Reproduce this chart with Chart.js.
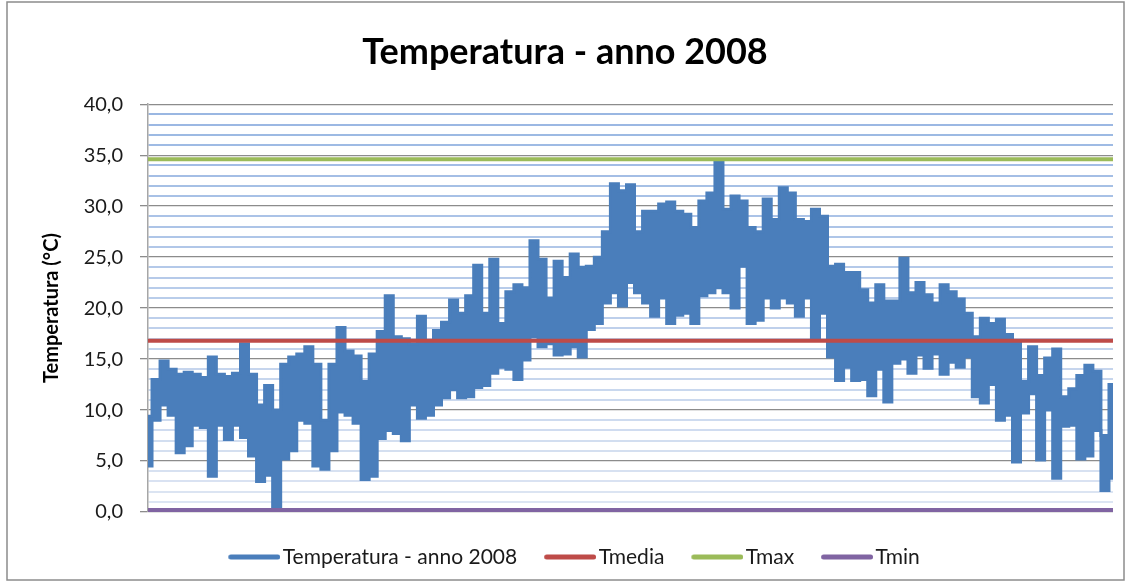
<!DOCTYPE html>
<html>
<head>
<meta charset="utf-8">
<title>Temperatura - anno 2008</title>
<script src="https://cdn.jsdelivr.net/npm/chart.js@4.4.1/dist/chart.umd.min.js"></script>
<style>
  html, body { margin: 0; padding: 0; background: #fff; }
  #wrap { width: 1130px; height: 583px; }
</style>
</head>
<body>
<div id="wrap"><canvas id="tempChart" width="1130" height="583"></canvas></div>
<script>
// upper / lower envelope of the hourly temperature (about 3 days per step)
const tempHigh = [9.4, 13, 14.8, 14, 13.5, 13.7, 13.5, 13.2, 15.2, 13.5,
  13.3, 13.6, 16.5, 13.5, 10.5, 12.4, 10, 14.5, 15.2, 15.5,
  16.2, 14.5, 9, 14.5, 18.1, 15.8, 15.3, 12.8, 15.5, 17.7,
  21.2, 17.2, 17, 16.5, 19.2, 16.7, 17.8, 18.6, 20.8, 19.5,
  21.2, 24.2, 19.5, 24.8, 18.5, 21.6, 22.3, 22, 26.6, 24.8,
  21, 24.6, 23, 25.3, 24, 24.1, 25, 27.5, 32.2, 31.5,
  32.1, 27.5, 29.5, 29.5, 30.2, 30.4, 29.5, 29.2, 27.9, 30.5,
  31.3, 34.4, 29.7, 31, 30.5, 27.9, 27.5, 30.7, 28.7, 31.8,
  31.3, 28.7, 28.5, 29.7, 29, 24.1, 24.3, 23.5, 23.5, 21.8,
  20.5, 22.3, 20.7, 20.7, 24.9, 21.5, 22.5, 21.3, 20.5, 22.3,
  21.6, 20.9, 19.5, 17.2, 19, 18.5, 18.9, 17.4, 16.6, 12.8,
  16.2, 13.4, 15.1, 16, 11.3, 12.1, 13.4, 14.4, 13.8, 7.5, 12.5];
const tempLow = [4.5, 9, 10.5, 9.5, 5.8, 6.5, 8.5, 8.3, 3.5, 8.5,
  7.1, 8.5, 7.3, 5.5, 3.0, 3.6, 0.3, 5.2, 6, 9,
  8.7, 4.5, 4.2, 6, 9.8, 9.5, 8.7, 3.2, 3.5, 7.2,
  8, 7.7, 7, 10.5, 9.2, 9.5, 10.5, 11.2, 12, 11.2,
  11.3, 12.2, 12.4, 13.6, 14.2, 14, 13, 14.9, 17.2, 16.2,
  16.5, 15.4, 15.5, 16.2, 15.2, 17.9, 18.5, 20.5, 21.5, 20.2,
  22.5, 21.5, 20.5, 19.2, 21, 18.5, 19.3, 19.5, 18.5, 21.2,
  21.5, 22, 21.5, 20, 24.1, 18.5, 18.8, 21, 20, 21,
  20.5, 19.2, 21, 17, 19.5, 15.2, 12.9, 14.2, 12.9, 13,
  11.4, 14, 10.8, 14.6, 15, 13.6, 15.4, 14.1, 15.5, 13.5,
  14.7, 14.2, 15.2, 11.3, 10.7, 12.5, 9, 9.5, 4.9, 9.7,
  11.6, 5.1, 10, 3.3, 8.4, 8.5, 5.2, 5.5, 8, 2.1, 3.3];

const tMedia = 16.8;
const tMax = 34.6;
const tMin = 0.2;

const yMin = 0, yMax = 40, yMajor = 5;

const lastX = tempHigh.length - 1;
const flat = v => [{x: 0, y: v}, {x: lastX, y: v}];
const toPoints = arr => arr.map((y, i) => ({x: i, y}));

const BLUE = '#4a7ebb', RED = '#be4b48', GREEN = '#9bbb59', PURPLE = '#8064a2';

function minorColor(v) {
  const t = v / yMax;
  const r = Math.round(222 - 70 * t), g = Math.round(230 - 48 * t), b = Math.round(243 - 17 * t);
  return `rgb(${r},${g},${b})`;
}

// legend sample: rounded thick line, drawn mostly left of the text
function sample(color) {
  const c = document.createElement('canvas');
  c.width = 56;
  c.height = 8;
  const g = c.getContext('2d');
  g.strokeStyle = color;
  g.lineWidth = 5;
  g.lineCap = 'round';
  g.beginPath();
  g.moveTo(6.5, 4);
  g.lineTo(53.5, 4);
  g.stroke();
  return c;
}

const frame = {
  id: 'frame',
  beforeDraw(chart) {
    const c = chart.ctx;
    c.save();
    c.fillStyle = '#fff';
    c.fillRect(0, 0, chart.width, chart.height);
    c.strokeStyle = '#8c8c8c';
    c.lineWidth = 1.5;
    c.strokeRect(7, 2, 1117, 578);
    c.restore();
  },
  afterLayout(chart) {
    chart.legend.left += 11;
    chart.legend.right += 11;
  }
};

new Chart(document.getElementById('tempChart'), {
  type: 'line',
  data: {
    datasets: [{
      label: 'Temperatura - anno 2008',
      data: toPoints(tempHigh),
      borderColor: BLUE,
      backgroundColor: BLUE,
      borderWidth: 3,
      stepped: 'middle',
      fill: '+1',
      pointRadius: 0,
      legendSample: sample(BLUE),
      order: 1
    }, {
      label: '',
      data: toPoints(tempLow),
      borderColor: BLUE,
      backgroundColor: BLUE,
      borderWidth: 3,
      stepped: 'middle',
      fill: false,
      pointRadius: 0,
      order: 1
    }, {
      label: 'Tmedia',
      data: flat(tMedia),
      borderColor: RED,
      backgroundColor: RED,
      borderWidth: 4,
      pointRadius: 0,
      legendSample: sample(RED),
      order: 0
    }, {
      label: 'Tmax',
      data: flat(tMax),
      borderColor: GREEN,
      backgroundColor: GREEN,
      borderWidth: 4,
      pointRadius: 0,
      legendSample: sample(GREEN),
      order: 0
    }, {
      label: 'Tmin',
      data: flat(tMin),
      borderColor: PURPLE,
      backgroundColor: PURPLE,
      borderWidth: 4,
      pointRadius: 0,
      legendSample: sample(PURPLE),
      order: 0
    }]
  },
  options: {
    responsive: false,
    animation: false,
    devicePixelRatio: 1,
    layout: { padding: { left: 0, right: 0, top: 0, bottom: 5.5 } },
    plugins: {
      tooltip: { enabled: false },
      title: {
        display: true,
        text: 'Temperatura - anno 2008',
        color: '#000',
        font: { family: 'Lato', size: 36, weight: 'bold', lineHeight: 1.2 },
        padding: { top: 31, bottom: 30 }
      },
      legend: {
        position: 'bottom',
        labels: {
          color: '#1a1a1a',
          font: { family: 'Lato', size: 21 },
          usePointStyle: true,
          pointStyleWidth: 40,
          padding: 31,
          filter: item => item.text !== '',
          sort: (a, b) => a.datasetIndex - b.datasetIndex,
          generateLabels: chart => Chart.defaults.plugins.legend.labels.generateLabels(chart)
            .map(l => Object.assign(l, { pointStyle: chart.data.datasets[l.datasetIndex].legendSample }))
        }
      }
    },
    scales: {
      x: {
        type: 'linear',
        min: 0,
        max: lastX,
        grid: { display: false, drawTicks: true, tickLength: 3.5 },
        ticks: { display: false },
        border: { display: false }
      },
      y: {
        min: yMin,
        max: yMax,
        afterFit: s => { s.width = 148; },
        ticks: {
          stepSize: 1,
          autoSkip: false,
          padding: 17,
          color: '#1a1a1a',
          font: { family: 'Lato', size: 20 },
          callback: v => v % yMajor === 0 ? v.toFixed(1).replace('.', ',') : ''
        },
        grid: {
          drawTicks: true,
          tickLength: 8,
          color: c => c.tick.value % yMajor === 0 ? '#8c8c8c' : minorColor(c.tick.value),
          lineWidth: c => c.tick.value % yMajor === 0 ? 1.3 : 2,
          tickColor: c => c.tick.value % yMajor === 0 ? '#8c8c8c' : 'rgba(0,0,0,0)'
        },
        border: { color: '#a6a6a6', width: 1.5 },
        title: {
          display: true,
          text: 'Temperatura (°C)',
          color: '#000',
          font: { family: 'Lato', size: 20, weight: 'bold', lineHeight: 1.2 },
          padding: { top: 40, bottom: 0 }
        }
      },
      yRight: {
        position: 'right',
        afterFit: s => { s.width = 17; },
        grid: { display: false },
        ticks: { display: false },
        border: { display: false }
      }
    }
  },
  plugins: [frame]
});
</script>
</body>
</html>
